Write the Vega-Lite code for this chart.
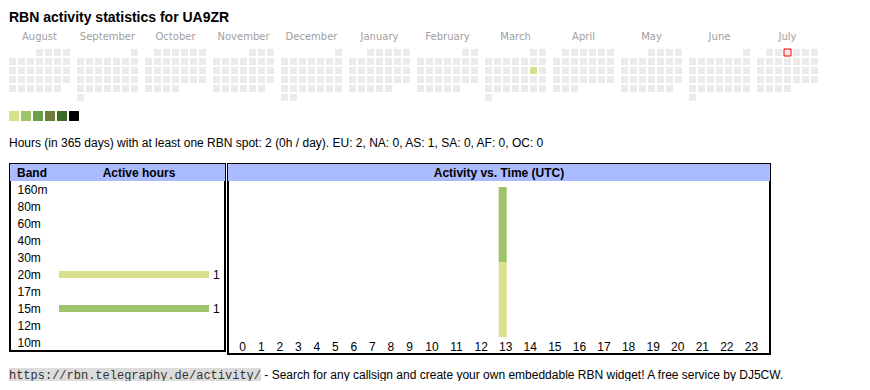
{
"$schema":"https://vega.github.io/schema/vega-lite/v6.json",
"background":"white",
"padding":{"left":8,"top":11,"right":0,"bottom":0},
"config":{"view":{"stroke":null},"font":"Liberation Sans","axis":{"minExtent":0,"grid":false,"domain":false,"ticks":false,"tickSize":0,"labelOverlap":false,"labelFlush":false}},
"datasets":{
"days":[
{"m":"August","w":0,"d":4},{"m":"August","w":0,"d":5},{"m":"August","w":0,"d":6},{"m":"August","w":0,"d":7},
{"m":"August","w":1,"d":1},{"m":"August","w":1,"d":2},{"m":"August","w":1,"d":3},{"m":"August","w":1,"d":4},{"m":"August","w":1,"d":5},{"m":"August","w":1,"d":6},{"m":"August","w":1,"d":7},
{"m":"August","w":2,"d":1},{"m":"August","w":2,"d":2},{"m":"August","w":2,"d":3},{"m":"August","w":2,"d":4},{"m":"August","w":2,"d":5},{"m":"August","w":2,"d":6},{"m":"August","w":2,"d":7},
{"m":"August","w":3,"d":1},{"m":"August","w":3,"d":2},{"m":"August","w":3,"d":3},{"m":"August","w":3,"d":4},{"m":"August","w":3,"d":5},{"m":"August","w":3,"d":6},{"m":"August","w":3,"d":7},
{"m":"August","w":4,"d":1},{"m":"August","w":4,"d":2},{"m":"August","w":4,"d":3},{"m":"August","w":4,"d":4},{"m":"August","w":4,"d":5},{"m":"August","w":4,"d":6},
{"m":"September","w":0,"d":7},
{"m":"September","w":1,"d":1},{"m":"September","w":1,"d":2},{"m":"September","w":1,"d":3},{"m":"September","w":1,"d":4},{"m":"September","w":1,"d":5},{"m":"September","w":1,"d":6},{"m":"September","w":1,"d":7},
{"m":"September","w":2,"d":1},{"m":"September","w":2,"d":2},{"m":"September","w":2,"d":3},{"m":"September","w":2,"d":4},{"m":"September","w":2,"d":5},{"m":"September","w":2,"d":6},{"m":"September","w":2,"d":7},
{"m":"September","w":3,"d":1},{"m":"September","w":3,"d":2},{"m":"September","w":3,"d":3},{"m":"September","w":3,"d":4},{"m":"September","w":3,"d":5},{"m":"September","w":3,"d":6},{"m":"September","w":3,"d":7},
{"m":"September","w":4,"d":1},{"m":"September","w":4,"d":2},{"m":"September","w":4,"d":3},{"m":"September","w":4,"d":4},{"m":"September","w":4,"d":5},{"m":"September","w":4,"d":6},{"m":"September","w":4,"d":7},
{"m":"September","w":5,"d":1},
{"m":"October","w":0,"d":2},{"m":"October","w":0,"d":3},{"m":"October","w":0,"d":4},{"m":"October","w":0,"d":5},{"m":"October","w":0,"d":6},{"m":"October","w":0,"d":7},
{"m":"October","w":1,"d":1},{"m":"October","w":1,"d":2},{"m":"October","w":1,"d":3},{"m":"October","w":1,"d":4},{"m":"October","w":1,"d":5},{"m":"October","w":1,"d":6},{"m":"October","w":1,"d":7},
{"m":"October","w":2,"d":1},{"m":"October","w":2,"d":2},{"m":"October","w":2,"d":3},{"m":"October","w":2,"d":4},{"m":"October","w":2,"d":5},{"m":"October","w":2,"d":6},{"m":"October","w":2,"d":7},
{"m":"October","w":3,"d":1},{"m":"October","w":3,"d":2},{"m":"October","w":3,"d":3},{"m":"October","w":3,"d":4},{"m":"October","w":3,"d":5},{"m":"October","w":3,"d":6},{"m":"October","w":3,"d":7},
{"m":"October","w":4,"d":1},{"m":"October","w":4,"d":2},{"m":"October","w":4,"d":3},{"m":"October","w":4,"d":4},
{"m":"November","w":0,"d":5},{"m":"November","w":0,"d":6},{"m":"November","w":0,"d":7},
{"m":"November","w":1,"d":1},{"m":"November","w":1,"d":2},{"m":"November","w":1,"d":3},{"m":"November","w":1,"d":4},{"m":"November","w":1,"d":5},{"m":"November","w":1,"d":6},{"m":"November","w":1,"d":7},
{"m":"November","w":2,"d":1},{"m":"November","w":2,"d":2},{"m":"November","w":2,"d":3},{"m":"November","w":2,"d":4},{"m":"November","w":2,"d":5},{"m":"November","w":2,"d":6},{"m":"November","w":2,"d":7},
{"m":"November","w":3,"d":1},{"m":"November","w":3,"d":2},{"m":"November","w":3,"d":3},{"m":"November","w":3,"d":4},{"m":"November","w":3,"d":5},{"m":"November","w":3,"d":6},{"m":"November","w":3,"d":7},
{"m":"November","w":4,"d":1},{"m":"November","w":4,"d":2},{"m":"November","w":4,"d":3},{"m":"November","w":4,"d":4},{"m":"November","w":4,"d":5},{"m":"November","w":4,"d":6},
{"m":"December","w":0,"d":7},
{"m":"December","w":1,"d":1},{"m":"December","w":1,"d":2},{"m":"December","w":1,"d":3},{"m":"December","w":1,"d":4},{"m":"December","w":1,"d":5},{"m":"December","w":1,"d":6},{"m":"December","w":1,"d":7},
{"m":"December","w":2,"d":1},{"m":"December","w":2,"d":2},{"m":"December","w":2,"d":3},{"m":"December","w":2,"d":4},{"m":"December","w":2,"d":5},{"m":"December","w":2,"d":6},{"m":"December","w":2,"d":7},
{"m":"December","w":3,"d":1},{"m":"December","w":3,"d":2},{"m":"December","w":3,"d":3},{"m":"December","w":3,"d":4},{"m":"December","w":3,"d":5},{"m":"December","w":3,"d":6},{"m":"December","w":3,"d":7},
{"m":"December","w":4,"d":1},{"m":"December","w":4,"d":2},{"m":"December","w":4,"d":3},{"m":"December","w":4,"d":4},{"m":"December","w":4,"d":5},{"m":"December","w":4,"d":6},{"m":"December","w":4,"d":7},
{"m":"December","w":5,"d":1},{"m":"December","w":5,"d":2},
{"m":"January","w":0,"d":3},{"m":"January","w":0,"d":4},{"m":"January","w":0,"d":5},{"m":"January","w":0,"d":6},{"m":"January","w":0,"d":7},
{"m":"January","w":1,"d":1},{"m":"January","w":1,"d":2},{"m":"January","w":1,"d":3},{"m":"January","w":1,"d":4},{"m":"January","w":1,"d":5},{"m":"January","w":1,"d":6},{"m":"January","w":1,"d":7},
{"m":"January","w":2,"d":1},{"m":"January","w":2,"d":2},{"m":"January","w":2,"d":3},{"m":"January","w":2,"d":4},{"m":"January","w":2,"d":5},{"m":"January","w":2,"d":6},{"m":"January","w":2,"d":7},
{"m":"January","w":3,"d":1},{"m":"January","w":3,"d":2},{"m":"January","w":3,"d":3},{"m":"January","w":3,"d":4},{"m":"January","w":3,"d":5},{"m":"January","w":3,"d":6},{"m":"January","w":3,"d":7},
{"m":"January","w":4,"d":1},{"m":"January","w":4,"d":2},{"m":"January","w":4,"d":3},{"m":"January","w":4,"d":4},{"m":"January","w":4,"d":5},
{"m":"February","w":0,"d":6},{"m":"February","w":0,"d":7},
{"m":"February","w":1,"d":1},{"m":"February","w":1,"d":2},{"m":"February","w":1,"d":3},{"m":"February","w":1,"d":4},{"m":"February","w":1,"d":5},{"m":"February","w":1,"d":6},{"m":"February","w":1,"d":7},
{"m":"February","w":2,"d":1},{"m":"February","w":2,"d":2},{"m":"February","w":2,"d":3},{"m":"February","w":2,"d":4},{"m":"February","w":2,"d":5},{"m":"February","w":2,"d":6},{"m":"February","w":2,"d":7},
{"m":"February","w":3,"d":1},{"m":"February","w":3,"d":2},{"m":"February","w":3,"d":3},{"m":"February","w":3,"d":4},{"m":"February","w":3,"d":5},{"m":"February","w":3,"d":6},{"m":"February","w":3,"d":7},
{"m":"February","w":4,"d":1},{"m":"February","w":4,"d":2},{"m":"February","w":4,"d":3},{"m":"February","w":4,"d":4},{"m":"February","w":4,"d":5},
{"m":"March","w":0,"d":6},{"m":"March","w":0,"d":7},
{"m":"March","w":1,"d":1},{"m":"March","w":1,"d":2},{"m":"March","w":1,"d":3},{"m":"March","w":1,"d":4},{"m":"March","w":1,"d":5},{"m":"March","w":1,"d":6},{"m":"March","w":1,"d":7},
{"m":"March","w":2,"d":1},{"m":"March","w":2,"d":2},{"m":"March","w":2,"d":3},{"m":"March","w":2,"d":4},{"m":"March","w":2,"d":5},{"m":"March","w":2,"d":6,"h":2},{"m":"March","w":2,"d":7},
{"m":"March","w":3,"d":1},{"m":"March","w":3,"d":2},{"m":"March","w":3,"d":3},{"m":"March","w":3,"d":4},{"m":"March","w":3,"d":5},{"m":"March","w":3,"d":6},{"m":"March","w":3,"d":7},
{"m":"March","w":4,"d":1},{"m":"March","w":4,"d":2},{"m":"March","w":4,"d":3},{"m":"March","w":4,"d":4},{"m":"March","w":4,"d":5},{"m":"March","w":4,"d":6},{"m":"March","w":4,"d":7},
{"m":"March","w":5,"d":1},
{"m":"April","w":0,"d":2},{"m":"April","w":0,"d":3},{"m":"April","w":0,"d":4},{"m":"April","w":0,"d":5},{"m":"April","w":0,"d":6},{"m":"April","w":0,"d":7},
{"m":"April","w":1,"d":1},{"m":"April","w":1,"d":2},{"m":"April","w":1,"d":3},{"m":"April","w":1,"d":4},{"m":"April","w":1,"d":5},{"m":"April","w":1,"d":6},{"m":"April","w":1,"d":7},
{"m":"April","w":2,"d":1},{"m":"April","w":2,"d":2},{"m":"April","w":2,"d":3},{"m":"April","w":2,"d":4},{"m":"April","w":2,"d":5},{"m":"April","w":2,"d":6},{"m":"April","w":2,"d":7},
{"m":"April","w":3,"d":1},{"m":"April","w":3,"d":2},{"m":"April","w":3,"d":3},{"m":"April","w":3,"d":4},{"m":"April","w":3,"d":5},{"m":"April","w":3,"d":6},{"m":"April","w":3,"d":7},
{"m":"April","w":4,"d":1},{"m":"April","w":4,"d":2},{"m":"April","w":4,"d":3},
{"m":"May","w":0,"d":4},{"m":"May","w":0,"d":5},{"m":"May","w":0,"d":6},{"m":"May","w":0,"d":7},
{"m":"May","w":1,"d":1},{"m":"May","w":1,"d":2},{"m":"May","w":1,"d":3},{"m":"May","w":1,"d":4},{"m":"May","w":1,"d":5},{"m":"May","w":1,"d":6},{"m":"May","w":1,"d":7},
{"m":"May","w":2,"d":1},{"m":"May","w":2,"d":2},{"m":"May","w":2,"d":3},{"m":"May","w":2,"d":4},{"m":"May","w":2,"d":5},{"m":"May","w":2,"d":6},{"m":"May","w":2,"d":7},
{"m":"May","w":3,"d":1},{"m":"May","w":3,"d":2},{"m":"May","w":3,"d":3},{"m":"May","w":3,"d":4},{"m":"May","w":3,"d":5},{"m":"May","w":3,"d":6},{"m":"May","w":3,"d":7},
{"m":"May","w":4,"d":1},{"m":"May","w":4,"d":2},{"m":"May","w":4,"d":3},{"m":"May","w":4,"d":4},{"m":"May","w":4,"d":5},{"m":"May","w":4,"d":6},
{"m":"June","w":0,"d":7},
{"m":"June","w":1,"d":1},{"m":"June","w":1,"d":2},{"m":"June","w":1,"d":3},{"m":"June","w":1,"d":4},{"m":"June","w":1,"d":5},{"m":"June","w":1,"d":6},{"m":"June","w":1,"d":7},
{"m":"June","w":2,"d":1},{"m":"June","w":2,"d":2},{"m":"June","w":2,"d":3},{"m":"June","w":2,"d":4},{"m":"June","w":2,"d":5},{"m":"June","w":2,"d":6},{"m":"June","w":2,"d":7},
{"m":"June","w":3,"d":1},{"m":"June","w":3,"d":2},{"m":"June","w":3,"d":3},{"m":"June","w":3,"d":4},{"m":"June","w":3,"d":5},{"m":"June","w":3,"d":6},{"m":"June","w":3,"d":7},
{"m":"June","w":4,"d":1},{"m":"June","w":4,"d":2},{"m":"June","w":4,"d":3},{"m":"June","w":4,"d":4},{"m":"June","w":4,"d":5},{"m":"June","w":4,"d":6},{"m":"June","w":4,"d":7},
{"m":"June","w":5,"d":1},
{"m":"July","w":0,"d":2},{"m":"July","w":0,"d":3},{"m":"July","w":0,"d":4,"today":true},{"m":"July","w":0,"d":5},{"m":"July","w":0,"d":6},{"m":"July","w":0,"d":7},
{"m":"July","w":1,"d":1},{"m":"July","w":1,"d":2},{"m":"July","w":1,"d":3},{"m":"July","w":1,"d":4},{"m":"July","w":1,"d":5},{"m":"July","w":1,"d":6},{"m":"July","w":1,"d":7},
{"m":"July","w":2,"d":1},{"m":"July","w":2,"d":2},{"m":"July","w":2,"d":3},{"m":"July","w":2,"d":4},{"m":"July","w":2,"d":5},{"m":"July","w":2,"d":6},{"m":"July","w":2,"d":7},
{"m":"July","w":3,"d":1},{"m":"July","w":3,"d":2},{"m":"July","w":3,"d":3},{"m":"July","w":3,"d":4},{"m":"July","w":3,"d":5},{"m":"July","w":3,"d":6},{"m":"July","w":3,"d":7},
{"m":"July","w":4,"d":1},{"m":"July","w":4,"d":2},{"m":"July","w":4,"d":3},{"m":"July","w":4,"d":4}
],
"levels":[{"level":1,"key":"activity"},{"level":2,"key":"activity"},{"level":3,"key":"activity"},{"level":4,"key":"activity"},{"level":5,"key":"activity"},{"level":6,"key":"activity"}],
"bands":[{"band":"160m","hours":0},{"band":"80m","hours":0},{"band":"60m","hours":0},{"band":"40m","hours":0},{"band":"30m","hours":0},{"band":"20m","hours":1},{"band":"17m","hours":0},{"band":"15m","hours":1},{"band":"12m","hours":0},{"band":"10m","hours":0}],
"header":[{"band":"Band","label":"Active hours"}],
"hourly":[{"hour":13,"band":"20m","hours":1},{"hour":13,"band":"15m","hours":1}],
"timeHeader":[{"sec":"hdr","label":"Activity vs. Time (UTC)"}],
"footer":[{"url":"https://rbn.telegraphy.de/activity/","note":"- Search for any callsign and create your own embeddable RBN widget! A free service by DJ5CW.","chars":35}]
},
"spacing":13,
"vconcat":[
{
"title":{"text":"RBN activity statistics for UA9ZR","anchor":"start","frame":"group","fontSize":14,"fontWeight":"bold","font":"Liberation Sans","color":"#000000","baseline":"alphabetic","offset":-12,"dx":-1},
"width":809,"height":100,
"view":{"fill":"white","stroke":null},
"layer":[
{
"data":{"name":"days"},
"mark":{"type":"bar","strokeWidth":1},
"encoding":{
"x":{"field":"m","type":"nominal","title":null,"scale":{"type":"band","domain":["August","September","October","November","December","January","February","March","April","May","June","July"],"range":[-1,808],"paddingInner":0.102941,"paddingOuter":0},"axis":{"orient":"top","offset":-15,"labelBaseline":"alphabetic","labelPadding":0,"labelFont":"DejaVu Sans","labelFontSize":10,"labelColor":"#a0a0a0","labelAngle":0}},
"xOffset":{"field":"d","type":"ordinal","scale":{"domain":[1,2,3,4,5,6,7],"paddingInner":0.222222,"paddingOuter":0}},
"y":{"field":"w","type":"ordinal","title":null,"scale":{"type":"band","domain":[0,1,2,3,4,5],"range":[25,77],"paddingInner":0.222222,"paddingOuter":0},"axis":null},
"color":{"condition":{"test":"datum.h > 0","value":"#d9e08b"},"value":"#ebebeb"},
"stroke":{"condition":{"test":"datum.today === true","value":"#ff0000"},"value":"transparent"}
}
},
{
"data":{"name":"levels"},
"mark":{"type":"rect"},
"encoding":{
"x":{"field":"level","type":"ordinal","title":null,"scale":{"type":"band","range":[-1,69],"paddingInner":0.166667,"paddingOuter":0},"axis":null},
"y":{"field":"key","type":"nominal","title":null,"scale":{"type":"band","range":[87,97],"paddingInner":0,"paddingOuter":0},"axis":null},
"color":{"field":"level","type":"ordinal","scale":{"domain":[1,2,3,4,5,6],"range":["#d9e08b","#9dc36b","#6aa04a","#6e7d3d","#3c6a28","#000000"]},"legend":null}
}
}
],
"resolve":{"scale":{"x":"independent","y":"independent","color":"independent"},"axis":{"x":"independent","y":"independent"}}
},
{
"title":{"text":"Hours (in 365 days) with at least one RBN spot: 2 (0h / day). EU: 2, NA: 0, AS: 1, SA: 0, AF: 0, OC: 0","anchor":"start","frame":"group","fontSize":12,"fontWeight":"normal","font":"Liberation Sans","color":"#000000","baseline":"alphabetic","offset":4,"dx":-1},
"spacing":3,
"bounds":"flush",
"hconcat":[
{
"width":215,"height":187,
"view":{"stroke":"#000000","strokeWidth":2},
"encoding":{"y":{"field":"band","type":"nominal","title":null,"scale":{"type":"band","domain":["Band","160m","80m","60m","40m","30m","20m","17m","15m","12m","10m"],"paddingInner":0,"paddingOuter":0},"axis":{"orient":"left","labelAlign":"left","labelPadding":-7,"labelFontSize":12,"labelFont":"Liberation Sans","labelColor":"#000000","labelBaseline":"middle","labelExpr":"datum.value === 'Band' ? '' : datum.label"}}},
"layer":[
{"data":{"name":"header"},"mark":{"type":"rect","color":"#aabbff"}},
{"data":{"name":"header"},"mark":{"type":"text","fontWeight":"bold","fontSize":12,"dx":21.5,"color":"#000000"},"encoding":{"text":{"field":"label","type":"nominal"}}},
{"data":{"name":"header"},"mark":{"type":"text","fontWeight":"bold","fontSize":12,"dx":-100.5,"align":"left","color":"#000000"},"encoding":{"text":{"field":"band","type":"nominal"}}},
{"data":{"name":"bands"},"transform":[{"filter":"datum.hours > 0"}],"mark":{"type":"bar","height":7},"encoding":{"x":{"field":"hours","type":"quantitative","title":null,"scale":{"domain":[0,1],"range":[49,199]},"axis":null},"color":{"field":"band","type":"nominal","scale":{"domain":["20m","15m"],"range":["#d9e08b","#9dc36b"]},"legend":null}}},
{"data":{"name":"bands"},"transform":[{"filter":"datum.hours > 0"}],"mark":{"type":"text","align":"left","dx":4,"fontSize":12,"color":"#000000"},"encoding":{"x":{"field":"hours","type":"quantitative"},"text":{"field":"hours","type":"quantitative"}}}
]
},
{
"width":542,"height":190,
"view":{"stroke":"#000000","strokeWidth":2},
"layer":[
{"data":{"name":"timeHeader"},"mark":{"type":"rect","color":"#aabbff"},
"encoding":{"y":{"field":"sec","type":"nominal","title":null,"scale":{"type":"band","range":[0,17],"paddingInner":0,"paddingOuter":0},"axis":null}}},
{"data":{"name":"timeHeader"},"mark":{"type":"text","fontWeight":"bold","fontSize":12,"color":"#000000"},
"encoding":{"y":{"field":"sec","type":"nominal","title":null,"scale":{"type":"band","range":[0,17],"paddingInner":0,"paddingOuter":0},"axis":null},"text":{"field":"label","type":"nominal"}}},
{"data":{"name":"hourly"},
"mark":{"type":"bar","width":8,"xOffset":-2.5},
"encoding":{
"x":{"field":"hour","type":"quantitative","title":null,"scale":{"domain":[0,9,10,23],"range":[10,181,203.5,528.5],"zero":false,"nice":false},"axis":{"orient":"bottom","offset":-4,"values":[0,1,2,3,4,5,6,7,8,9,10,11,12,13,14,15,16,17,18,19,20,21,22,23],"format":"d","labelBaseline":"alphabetic","labelPadding":0,"labelFontSize":12,"labelFont":"Liberation Sans","labelColor":"#000000"}},
"y":{"field":"hours","type":"quantitative","stack":"zero","title":null,"scale":{"domain":[0,2],"range":[173,23],"nice":false},"axis":null},
"color":{"field":"band","type":"nominal","scale":{"domain":["20m","15m"],"range":["#d9e08b","#9dc36b"]},"legend":null},
"order":{"field":"band","type":"nominal","sort":"descending"}
}}
],
"resolve":{"scale":{"y":"independent"}}
}
]
},
{
"data":{"name":"footer"},
"width":809,"height":13,
"encoding":{
"y":{"field":"url","type":"nominal","title":null,"scale":{"type":"band","range":[0,13],"paddingInner":0,"paddingOuter":0},"axis":null}
},
"layer":[
{"mark":{"type":"bar","color":"#dcdcdc"},"encoding":{"x":{"field":"chars","type":"quantitative","title":null,"scale":{"domain":[0,35],"range":[-1,251]},"axis":null}}},
{"mark":{"type":"text","align":"right","font":"Liberation Mono","fontSize":12,"color":"#333333"},"encoding":{"x":{"field":"chars","type":"quantitative"},"text":{"field":"url","type":"nominal"}}},
{"mark":{"type":"text","align":"left","dx":3.3,"fontSize":12,"color":"#000000"},"encoding":{"x":{"field":"chars","type":"quantitative"},"text":{"field":"note","type":"nominal"}}}
]
}
]
}
